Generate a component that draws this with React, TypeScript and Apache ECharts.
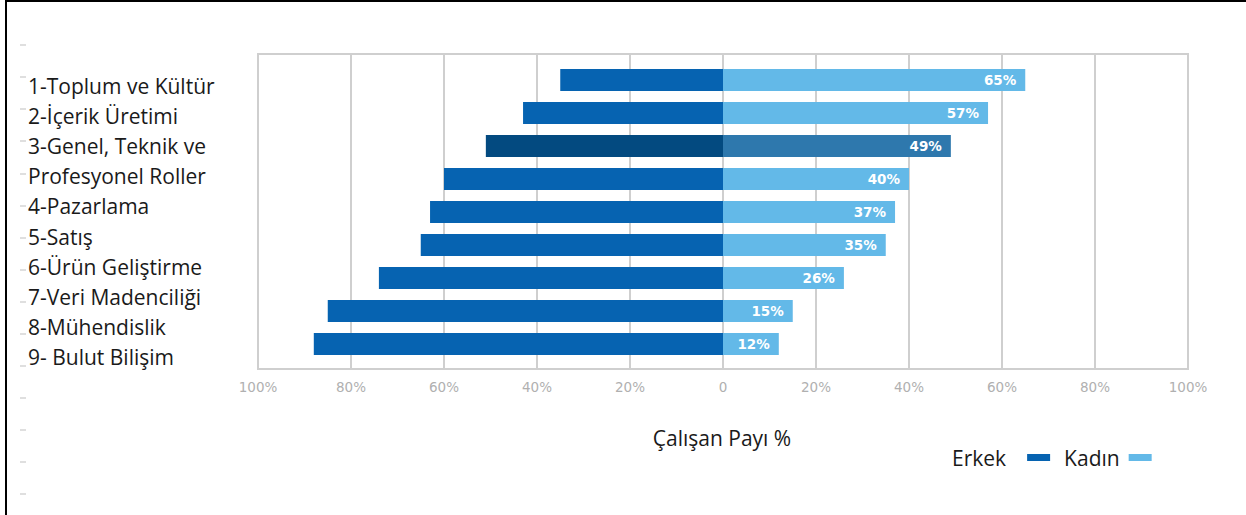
import React, { useEffect, useRef } from "react";
import * as echarts from "echarts";

const categories = [
  "1-Toplum ve Kültür",
  "2-İçerik Üretimi",
  "3-Genel, Teknik ve Profesyonel Roller",
  "4-Pazarlama",
  "5-Satış",
  "6-Ürün Geliştirme",
  "7-Veri Madenciliği",
  "8-Mühendislik",
  "9- Bulut Bilişim",
];
const labelLines = [
  "1-Toplum ve Kültür",
  "2-İçerik Üretimi",
  "3-Genel, Teknik ve",
  "Profesyonel Roller",
  "4-Pazarlama",
  "5-Satış",
  "6-Ürün Geliştirme",
  "7-Veri Madenciliği",
  "8-Mühendislik",
  "9- Bulut Bilişim",
];
const erkek = [35, 43, 51, 60, 63, 65, 74, 85, 88];
const kadin = [65, 57, 49, 40, 37, 35, 26, 15, 12];
const highlightIndex = 2;
const axisTitle = "Çalışan Payı %";
const seriesNames = ["Erkek", "Kadın"];

const C_ERKEK = "#0663b1";
const C_ERKEK_HL = "#034a80";
const C_KADIN = "#63b9e8";
const C_KADIN_HL = "#2e78ad";

export default function App() {
  const ref = useRef<HTMLDivElement>(null);
  useEffect(() => {
    document.body.style.margin = "0";
    const chart = echarts.init(ref.current!, null, { renderer: "svg" });
    chart.setOption({
      animation: false,
      backgroundColor: "transparent",
      grid: [
        { left: 258, top: 54, width: 930, height: 315, show: true, borderColor: "#cfcfcf", borderWidth: 2, backgroundColor: "transparent" },
        { left: 258, top: 63.5, width: 930, height: 297 },
        { left: 258, top: 71, width: 930, height: 301 },
        { left: 26, top: 45, width: 1, height: 449 },
      ],
      xAxis: [
        {
          gridIndex: 0, type: "value", min: -100, max: 100, interval: 20,
          axisLine: { show: false }, axisTick: { show: false },
          splitLine: { show: true, lineStyle: { color: "#cfcfcf", width: 2 } },
          axisLabel: {
            margin: 11, color: "#b0b0b0", fontSize: 13.5, fontFamily: "DejaVu Sans",
            formatter: (v: number) => (v === 0 ? "0" : Math.abs(v) + "%"),
          },
        },
        { gridIndex: 1, type: "value", min: -100, max: 100, show: false },
        { gridIndex: 2, type: "value", min: 0, max: 1, show: false },
        { gridIndex: 3, type: "value", min: 0, max: 1, show: false },
      ],
      yAxis: [
        { gridIndex: 0, type: "value", show: false },
        { gridIndex: 1, type: "category", inverse: true, data: categories, show: false },
        {
          gridIndex: 2, type: "category", inverse: true, data: labelLines,
          axisLine: { show: false }, axisTick: { show: false },
          axisLabel: { interval: 0, align: "left", margin: 230, fontSize: 21, color: "#1a1a1a", fontFamily: "Open Sans" },
        },
        {
          gridIndex: 3, type: "value", min: 0, max: 14, interval: 1,
          axisLine: { show: false }, axisLabel: { show: false }, splitLine: { show: false },
          axisTick: { show: true, length: 6, lineStyle: { color: "#d4d4d4", width: 1.5 } },
        },
      ],
      legend: {
        left: 952, top: 447, align: "right", itemWidth: 23, itemHeight: 7, itemGap: 14, padding: 0,
        icon: "rect",
        data: [
          { name: seriesNames[0], textStyle: { padding: [0, 16, 0, 0] } },
          { name: seriesNames[1], textStyle: { padding: [0, 4, 0, 0] } },
        ],
        textStyle: { fontSize: 21, color: "#1a1a1a", fontFamily: "Open Sans" },
      },
      graphic: [
        {
          type: "text", x: 722, y: 438,
          style: { text: axisTitle, textAlign: "center", textVerticalAlign: "middle", fontSize: 21, fontFamily: "Open Sans", fill: "#1a1a1a" },
        },
      ],
      series: [
        {
          name: seriesNames[0], type: "bar", stack: "t", xAxisIndex: 1, yAxisIndex: 1, barWidth: 22,
          itemStyle: { color: C_ERKEK },
          data: erkek.map((v, i) => ({ value: -v, itemStyle: { color: i === highlightIndex ? C_ERKEK_HL : C_ERKEK } })),
        },
        {
          name: seriesNames[1], type: "bar", stack: "t", xAxisIndex: 1, yAxisIndex: 1, barWidth: 22,
          itemStyle: { color: C_KADIN },
          label: {
            show: true, position: "insideRight", distance: 9, color: "#ffffff", fontWeight: "bold",
            fontSize: 13.5, fontFamily: "DejaVu Sans", formatter: (p: any) => p.value + "%",
          },
          data: kadin.map((v, i) => ({ value: v, itemStyle: { color: i === highlightIndex ? C_KADIN_HL : C_KADIN } })),
        },
        {
          type: "scatter", xAxisIndex: 3, yAxisIndex: 3, data: [], silent: true,
        },
      ],
    });
    return () => chart.dispose();
  }, []);
  return (
    <div style={{ position: "relative", width: 1246, height: 515, background: "#fff", overflow: "hidden" }}>
      <div ref={ref} style={{ position: "absolute", left: 0, top: 0, width: 1246, height: 515 }} />
      <div style={{ position: "absolute", left: 5, top: 0, width: 1241, height: 2, background: "#000" }} />
      <div style={{ position: "absolute", left: 5, top: 0, width: 2, height: 515, background: "#000" }} />
    </div>
  );
}
